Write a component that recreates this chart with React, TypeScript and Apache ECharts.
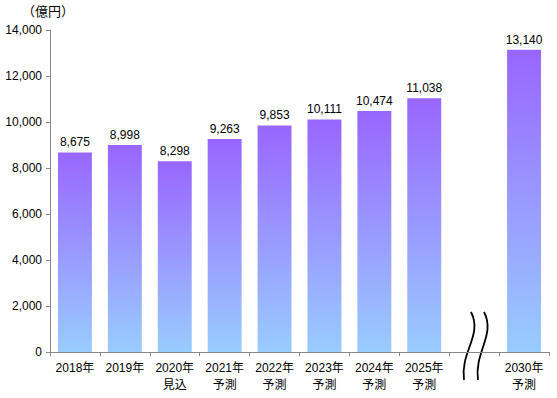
import React, { useEffect, useRef } from "react";
import * as echarts from "echarts";

const categories = [
  "2018年",
  "2019年",
  "2020年\n見込",
  "2021年\n予測",
  "2022年\n予測",
  "2023年\n予測",
  "2024年\n予測",
  "2025年\n予測",
  "",
  "2030年\n予測",
];
const values: (number | null)[] = [8675, 8998, 8298, 9263, 9853, 10111, 10474, 11038, null, 13140];
const unitLabel = "（億円）";

const FONT = "'Liberation Sans', 'Noto Sans CJK JP', sans-serif";

export default function App() {
  const ref = useRef<HTMLDivElement>(null);
  useEffect(() => {
    if (!ref.current) return;
    const chart = echarts.init(ref.current, null, { renderer: "svg" });
    const wave = (x1: number, x2: number) => ({
      type: "bezierCurve",
      shape: {
        x1: x1,
        y1: 312,
        cpx1: x1 + 12,
        cpy1: 335,
        cpx2: x2 - 4,
        cpy2: 352,
        x2: x2,
        y2: 380,
      },
      style: { stroke: "#000", lineWidth: 1.8, fill: null },
    });
    chart.setOption({
      animation: false,
      textStyle: { fontFamily: FONT },
      grid: { left: 50, right: 8, top: 30, bottom: 46 },
      xAxis: {
        type: "category",
        data: categories,
        axisLine: { lineStyle: { color: "#888" } },
        axisTick: { show: true, length: 4, lineStyle: { color: "#888" } },
        axisLabel: {
          interval: 0,
          color: "#000",
          fontSize: 12,
          lineHeight: 17,
          margin: 7,
          fontFamily: FONT,
        },
      },
      yAxis: {
        type: "value",
        min: 0,
        max: 14000,
        interval: 2000,
        axisLine: { show: true, lineStyle: { color: "#888" } },
        axisTick: { show: true, length: 4, lineStyle: { color: "#888" } },
        splitLine: { show: false },
        axisLabel: {
          color: "#000",
          fontSize: 12,
          margin: 8,
          fontFamily: FONT,
          formatter: (v: number) => v.toLocaleString("en-US"),
        },
      },
      series: [
        {
          type: "bar",
          data: values,
          barCategoryGap: "32%",
          itemStyle: {
            color: new echarts.graphic.LinearGradient(0, 0, 0, 1, [
              { offset: 0, color: "#9966ff" },
              { offset: 1, color: "#99ccff" },
            ]),
          },
          label: {
            show: true,
            position: "top",
            distance: 4,
            color: "#000",
            fontSize: 12,
            fontFamily: FONT,
            formatter: (p: any) => (p.value == null ? "" : Number(p.value).toLocaleString("en-US")),
          },
        },
      ],
      graphic: [
        {
          type: "text",
          left: 22,
          top: 5,
          style: { text: unitLabel, fill: "#000", font: `13px ${FONT}` },
        },
        wave(471, 464),
        wave(484, 478),
      ],
    });
    return () => chart.dispose();
  }, []);
  return (
    <div
      ref={ref}
      style={{ position: "fixed", left: 0, top: 0, width: 557, height: 398, background: "#fff" }}
    />
  );
}
